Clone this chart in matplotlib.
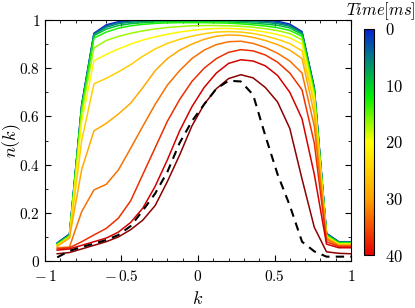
import matplotlib
matplotlib.use('Agg')
import matplotlib.pyplot as plt
from matplotlib.colors import LinearSegmentedColormap, Normalize
from matplotlib.cm import ScalarMappable
from matplotlib.ticker import MultipleLocator, FuncFormatter

# momentum grid
k = [-0.92, -0.84, -0.76, -0.68, -0.60, -0.52, -0.44, -0.36, -0.28, -0.20, -0.12, -0.04,
     0.04, 0.12, 0.20, 0.28, 0.36, 0.44, 0.52, 0.60, 0.68, 0.76, 0.84, 0.92, 1.00]

# time of each curve (ms)
times = [0, 3, 6, 9, 13, 17, 21, 25, 29, 33, 37, 41, 45]

# n(k) for each time
n_k = [
    [0.075, 0.112, 0.65, 0.945, 0.98, 0.993, 0.998, 1, 1, 1, 1, 1, 1, 1, 1, 1, 1, 0.999, 0.995, 0.983, 0.952, 0.72, 0.115, 0.08, 0.08],
    [0.074, 0.11, 0.647, 0.943, 0.976, 0.99, 0.996, 0.998, 0.999, 0.999, 0.999, 0.999, 0.999, 0.999, 0.998, 0.998, 0.997, 0.995, 0.99, 0.979, 0.949, 0.717, 0.113, 0.079, 0.079],
    [0.073, 0.108, 0.643, 0.94, 0.97, 0.985, 0.991, 0.994, 0.996, 0.997, 0.997, 0.997, 0.997, 0.997, 0.996, 0.995, 0.993, 0.99, 0.985, 0.974, 0.945, 0.713, 0.111, 0.078, 0.078],
    [0.071, 0.106, 0.638, 0.935, 0.962, 0.977, 0.985, 0.989, 0.992, 0.993, 0.994, 0.994, 0.994, 0.993, 0.992, 0.99, 0.987, 0.983, 0.978, 0.967, 0.94, 0.708, 0.109, 0.077, 0.077],
    [0.07, 0.104, 0.633, 0.925, 0.95, 0.966, 0.976, 0.982, 0.986, 0.988, 0.989, 0.989, 0.989, 0.988, 0.987, 0.984, 0.98, 0.975, 0.968, 0.957, 0.932, 0.703, 0.107, 0.075, 0.075],
    [0.067, 0.101, 0.615, 0.884, 0.915, 0.932, 0.945, 0.955, 0.963, 0.969, 0.973, 0.976, 0.977, 0.977, 0.976, 0.974, 0.97, 0.964, 0.956, 0.944, 0.918, 0.69, 0.103, 0.072, 0.072],
    [0.065, 0.099, 0.58, 0.831, 0.857, 0.88, 0.9, 0.917, 0.93, 0.941, 0.95, 0.957, 0.962, 0.965, 0.965, 0.963, 0.958, 0.95, 0.94, 0.926, 0.9, 0.675, 0.1, 0.07, 0.07],
    [0.063, 0.097, 0.5, 0.735, 0.758, 0.785, 0.815, 0.85, 0.88, 0.903, 0.92, 0.933, 0.943, 0.95, 0.952, 0.95, 0.944, 0.934, 0.92, 0.902, 0.872, 0.65, 0.098, 0.068, 0.068],
    [0.061, 0.095, 0.38, 0.54, 0.571, 0.61, 0.655, 0.72, 0.79, 0.84, 0.875, 0.9, 0.92, 0.933, 0.938, 0.936, 0.928, 0.915, 0.898, 0.875, 0.84, 0.61, 0.096, 0.066, 0.066],
    [0.055, 0.058, 0.205, 0.295, 0.318, 0.378, 0.468, 0.56, 0.65, 0.73, 0.79, 0.84, 0.875, 0.898, 0.91, 0.912, 0.903, 0.886, 0.862, 0.83, 0.78, 0.56, 0.09, 0.063, 0.063],
    [0.05, 0.055, 0.08, 0.108, 0.135, 0.178, 0.25, 0.36, 0.47, 0.58, 0.67, 0.745, 0.8, 0.84, 0.866, 0.877, 0.872, 0.855, 0.825, 0.78, 0.71, 0.49, 0.08, 0.06, 0.06],
    [0.045, 0.05, 0.065, 0.08, 0.095, 0.12, 0.16, 0.22, 0.31, 0.42, 0.54, 0.64, 0.72, 0.78, 0.82, 0.835, 0.83, 0.81, 0.77, 0.7, 0.59, 0.36, 0.07, 0.055, 0.055],
    [0.03, 0.035, 0.05, 0.065, 0.08, 0.1, 0.13, 0.17, 0.23, 0.33, 0.44, 0.56, 0.65, 0.715, 0.757, 0.773, 0.76, 0.72, 0.66, 0.55, 0.34, 0.14, 0.038, 0.032, 0.03],
]

# dashed reference curve
n_ref = [0.015, 0.042, 0.058, 0.072, 0.087, 0.108, 0.145, 0.21, 0.28, 0.37, 0.49, 0.58, 0.65, 0.715,
         0.748, 0.745, 0.69, 0.52, 0.36, 0.23, 0.08, 0.04, 0.018, 0.018, 0.018]

cbar_ticks = [0, 10, 20, 30, 40]

plt.rcParams['mathtext.fontset'] = 'cm'
plt.rcParams['font.family'] = 'serif'

nodes = [(0.0, '#0a1ed2'), (0.12, '#007a8a'), (0.3, '#00f000'), (0.5, '#ffff00'),
         (0.75, '#ffa000'), (1.0, '#e60000')]
cmap = LinearSegmentedColormap.from_list('tcmap', nodes)
tmax = 40.0
tline = 45.0
line_nodes = [(p * tmax / tline, c) for p, c in nodes] + [(1.0, '#8c0000')]
line_cmap = LinearSegmentedColormap.from_list('lcmap', line_nodes)

fig = plt.figure(figsize=(4.15, 3.08), dpi=100)
ax = fig.add_axes([0.1084, 0.1526, 0.7374, 0.7824])

for t, n in zip(times, n_k):
    ax.plot(k, n, color=line_cmap(t / tline), lw=1.1)
ax.plot(k, n_ref, color='black', lw=1.5, ls=(0, (4, 3)))


def tick_fmt(v, pos):
    v = round(v, 2)
    if v < 0:
        return r'$-\,%g$' % (-v)
    return '$%g$' % v


ax.set_xlim(-1, 1)
ax.set_ylim(0, 1)
ax.xaxis.set_major_locator(MultipleLocator(0.5))
ax.xaxis.set_minor_locator(MultipleLocator(0.1))
ax.yaxis.set_major_locator(MultipleLocator(0.2))
ax.yaxis.set_minor_locator(MultipleLocator(0.1))
ax.xaxis.set_major_formatter(FuncFormatter(tick_fmt))
ax.yaxis.set_major_formatter(FuncFormatter(tick_fmt))
ax.tick_params(which='both', direction='in', top=True, right=True, labelsize=11)
ax.tick_params(which='major', length=4)
ax.tick_params(which='minor', length=2)
ax.tick_params(axis='x', which='major', pad=5.5)
ax.set_xlabel('$k$', fontsize=13)
ax.set_ylabel('$n(k)$', fontsize=13)
ax.xaxis.set_label_coords(0.5, -0.12)
ax.yaxis.set_label_coords(-0.072, 0.5)

cax = fig.add_axes([0.877, 0.172, 0.024, 0.734])
sm = ScalarMappable(norm=Normalize(0, tmax), cmap=cmap)
cb = fig.colorbar(sm, cax=cax)
cax.invert_yaxis()
cb.set_ticks(cbar_ticks)
cb.set_ticklabels(['$%d$' % v for v in cbar_ticks])
cax.tick_params(length=0, labelsize=12, pad=8)
fig.text(0.918, 0.965, '$Time[ms]$', fontsize=12, ha='center', va='center')

fig.savefig('out.png', dpi=100)
